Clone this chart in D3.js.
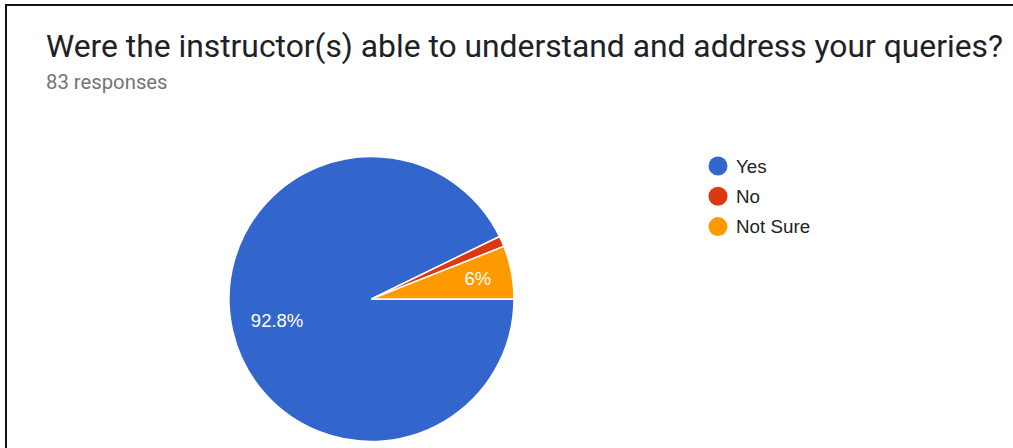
<!DOCTYPE html>
<html><head><meta charset="utf-8">
<script src="https://cdn.jsdelivr.net/npm/d3@7/dist/d3.min.js"></script>
<style>body{margin:0;background:#fff;}svg{display:block;}</style>
</head><body>
<svg id="c" width="1013" height="448"></svg>
<script>
const title = "Were the instructor(s) able to understand and address your queries?";
const subtitle = "83 responses";
const categories = ["Yes", "No", "Not Sure"];
const counts = [77, 1, 5];
const labels = ["92.8%", "", "6%"];
const colors = ["#3366cc", "#dc3912", "#ff9900"];

const svg = d3.select("#c");
// frame
svg.append("path").attr("d", "M6,448 V5 H1013").attr("fill", "none").attr("stroke", "#111").attr("stroke-width", 2);

svg.append("text").attr("x", 46).attr("y", 57).attr("font-family", "Roboto").attr("font-size", 31.8)
  .attr("fill", "#202124").text(title);
svg.append("text").attr("x", 46).attr("y", 89).attr("font-family", "Roboto").attr("font-size", 20.3)
  .attr("fill", "#70757a").text(subtitle);

const cx = 371.5, cy = 299, r = 142.5;
const pie = d3.pie().sort(null).startAngle(Math.PI / 2).endAngle(Math.PI / 2 + 2 * Math.PI);
const arcs = pie(counts);
const arc = d3.arc().innerRadius(0).outerRadius(r);
const lr = d => (d.endAngle - d.startAngle) < 0.6 ? r * 0.76 : r * 0.68;
const g = svg.append("g").attr("transform", `translate(${cx},${cy})`);
g.selectAll("path.s").data(arcs).join("path").attr("class", "s")
  .attr("d", arc).attr("fill", (d, i) => colors[i]).attr("stroke", "#fff").attr("stroke-width", 1.5);
g.selectAll("text.l").data(arcs).join("text").attr("class", "l")
  .attr("transform", d => `translate(${d3.arc().innerRadius(lr(d)).outerRadius(lr(d)).centroid(d)})`)
  .attr("text-anchor", "middle").attr("dy", "0.35em")
  .attr("font-family", "Liberation Sans, Arial").attr("font-size", 18.5).attr("fill", "#fff")
  .text((d, i) => labels[i]);

const leg = svg.append("g").attr("transform", "translate(718,166)");
const row = leg.selectAll("g").data(categories).join("g").attr("transform", (d, i) => `translate(0,${i * 30.3})`);
row.append("circle").attr("r", 9.5).attr("fill", (d, i) => colors[i]);
row.append("text").attr("x", 18).attr("dy", "0.36em").attr("font-family", "Liberation Sans, Arial")
  .attr("font-size", 18.8).attr("fill", "#222").text(d => d);
</script>
</body></html>
